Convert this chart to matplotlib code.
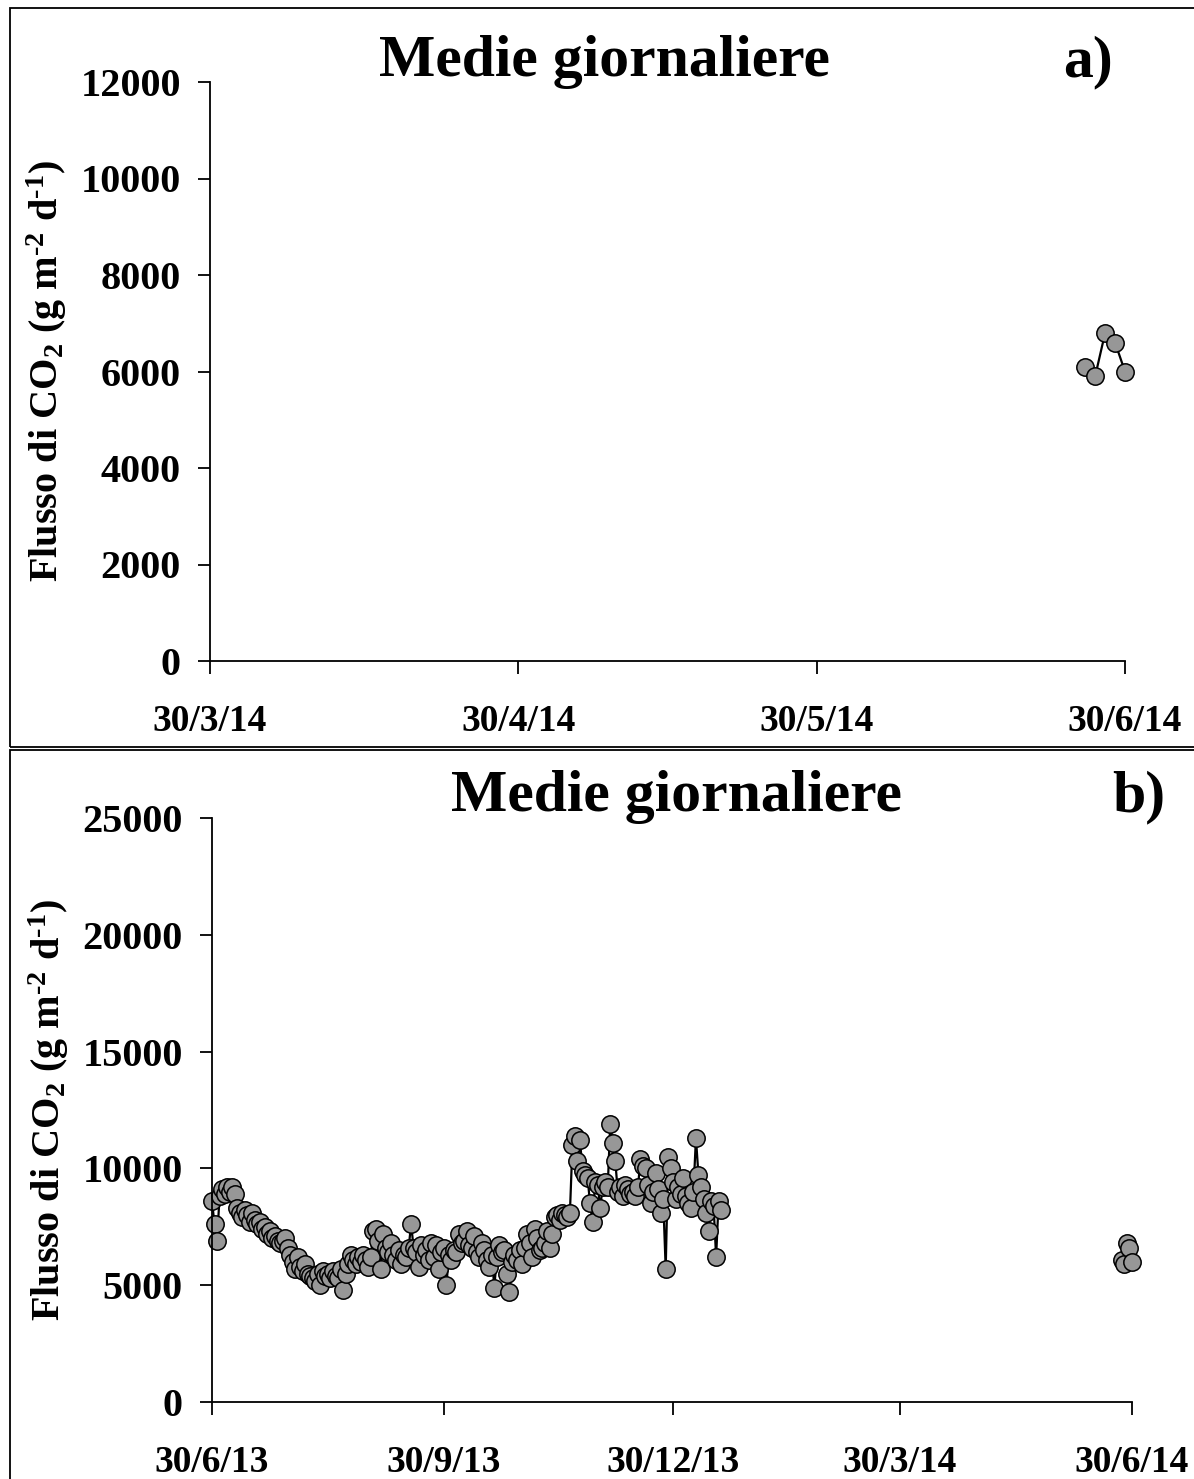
import matplotlib
matplotlib.use('Agg')
import matplotlib.pyplot as plt
import matplotlib.dates as mdates
from matplotlib.patches import Rectangle
import numpy as np
import pandas as pd

plt.rcParams['font.family'] = ['Liberation Serif', 'DejaVu Serif']
plt.rcParams['font.weight'] = 'bold'
plt.rcParams['mathtext.fontset'] = 'custom'
plt.rcParams['mathtext.rm'] = 'Liberation Serif:bold'
plt.rcParams['mathtext.it'] = 'Liberation Serif:bold'
plt.rcParams['mathtext.bf'] = 'Liberation Serif:bold'

# ------------------------------------------------------------------
# Data (daily means, g m-2 d-1)
# ------------------------------------------------------------------

# panel a: last days of June 2014
a_start = '2014-06-26'
a_values = [6100, 5900, 6800, 6600, 6000]

# panel b: first period, daily from 30/6/13
b1_start = '2013-06-30'
b1_values = [
    8600, 7600, 6900, 8800,
    9100, 8900, 9200, 9000,
    9200, 8900, 8300, 8100,
    7900, 8200, 8000, 7700,
    8100, 7800, 7600, 7700,
    7400, 7500, 7200, 7300,
    7000, 7100, 6900, 6800,
    6900, 7000, 6600, 6300,
    6000, 5700, 6200, 5800,
    5600, 5900, 5500, 5400,
    5300, 5200, 5500, 5000,
    5600, 5400, 5500, 5300,
    5600, 5400, 5300, 5700,
    4800, 5500, 5900, 6300,
    6100, 5900, 6200, 6000,
    6300, 6100, 5800, 6200,
    7300, 7400, 6900, 5700,
    7200, 6600, 6400, 6800,
    6300, 6100, 6500, 5900,
    6300, 6200, 6600, 7600,
    6600, 6400, 5800, 6700,
    6300, 6500, 6100, 6800,
    6200, 6700, 5700, 6400,
    6600, 5000, 6300, 6100,
    6500, 6400, 7200, 6800,
    6900, 7300, 6700, 6600,
    7100, 6400, 6200, 6800,
    6500, 6100, 5800, 6300,
    4900, 6200, 6700, 6400,
    6500, 5500, 4700, 6000,
    6300, 6100, 6500, 5900,
    6600, 7200, 6800, 6200,
    7400, 7000, 6500, 6600,
    6800, 7300, 6600, 7200,
    7900, 8000, 7800, 8100,
    8000, 7900, 8100, 11000,
    11400, 10300, 11200, 9900,
    9700, 9600, 8500, 7700,
    9400, 9300, 8300, 9200,
    9400, 9200, 11900, 11100,
    10300, 9000, 9200, 8800,
    9300, 9100, 8900, 9000,
    8800, 9200, 10400, 10100,
    10000, 9300, 8500, 9000,
    9800, 9100, 8100, 8700,
    5700, 10500, 10000, 9400,
    8700, 9200, 8900, 9600,
    8800, 8500, 8300, 9000,
    11300, 9700, 9200, 8700,
    8100, 7300, 8600, 8400,
    6200, 8600, 8200,
]

# panel b: second period (same days as panel a)
b2_start = a_start
b2_values = a_values

a_ticks = ['2014-03-30', '2014-04-30', '2014-05-30', '2014-06-30']
b_ticks = ['2013-06-30', '2013-09-30', '2013-12-30', '2014-03-30', '2014-06-30']


def daily(start, values):
    return pd.date_range(start, periods=len(values), freq='D')


def fmt_date(x, pos=None):
    d = mdates.num2date(x)
    return f"{d.day}/{d.month}/{d.strftime('%y')}"


def style_axis(ax, ticks, ymax, ystep):
    for s in ['top', 'right']:
        ax.spines[s].set_visible(False)
    for s in ['left', 'bottom']:
        ax.spines[s].set_linewidth(1.3)
    tick_dates = pd.to_datetime(ticks)
    ax.set_xlim(tick_dates[0], tick_dates[-1])
    ax.set_xticks(tick_dates)
    ax.xaxis.set_major_formatter(plt.FuncFormatter(fmt_date))
    ax.set_ylim(0, ymax)
    ax.set_yticks(np.arange(0, ymax + 1, ystep))
    ax.tick_params(axis='y', direction='out', length=9, width=1.3,
                   labelsize=29, pad=12)
    ax.tick_params(axis='x', direction='out', length=9, width=1.3,
                   labelsize=27, pad=22)
    for lab in ax.get_xticklabels() + ax.get_yticklabels():
        lab.set_fontweight('bold')
    ax.set_ylabel(r'Flusso di CO$_2$ (g m$^{\text{-2}}$ d$^{\text{-1}}$)',
                  fontsize=29, fontweight='bold', labelpad=8)


def plot_series(ax, dates, values):
    ax.plot(dates, values, '-', color='black', lw=1.6,
            marker='o', markersize=12.5, markerfacecolor='#979797',
            markeredgecolor='black', markeredgewidth=1.1, clip_on=False)


fig = plt.figure(figsize=(11.94, 14.79), dpi=100)

# ----- panel a -----
ax1 = fig.add_axes([210 / 1194, 1 - 661 / 1479, 915 / 1194, 579 / 1479])
plot_series(ax1, daily(a_start, a_values), a_values)
style_axis(ax1, a_ticks, 12000, 2000)
fig.text(604 / 1194, 1 - 62 / 1479, 'Medie giornaliere', ha='center',
         va='center', fontsize=43, fontweight='bold')
fig.text(1088 / 1194, 1 - 62 / 1479, 'a)', ha='center', va='center',
         fontsize=43, fontweight='bold')

# ----- panel b -----
ax2 = fig.add_axes([212 / 1194, 1 - 1402 / 1479, 920 / 1194, 584 / 1479])
plot_series(ax2, daily(b1_start, b1_values), b1_values)
plot_series(ax2, daily(b2_start, b2_values), b2_values)
style_axis(ax2, b_ticks, 25000, 5000)
fig.text(676 / 1194, 1 - 797 / 1479, 'Medie giornaliere', ha='center',
         va='center', fontsize=43, fontweight='bold')
fig.text(1139 / 1194, 1 - 797 / 1479, 'b)', ha='center', va='center',
         fontsize=43, fontweight='bold')

# frames round the two panels
fig.add_artist(Rectangle((10 / 1194, 1 - 747 / 1479), 1.0, 739 / 1479,
                         transform=fig.transFigure, fill=False,
                         lw=1.3, ec='black'))
fig.add_artist(Rectangle((10 / 1194, -0.01), 1.0, 1 - 750 / 1479 + 0.01,
                         transform=fig.transFigure, fill=False,
                         lw=1.3, ec='black'))

fig.savefig('out.png', dpi=100, facecolor='white')
